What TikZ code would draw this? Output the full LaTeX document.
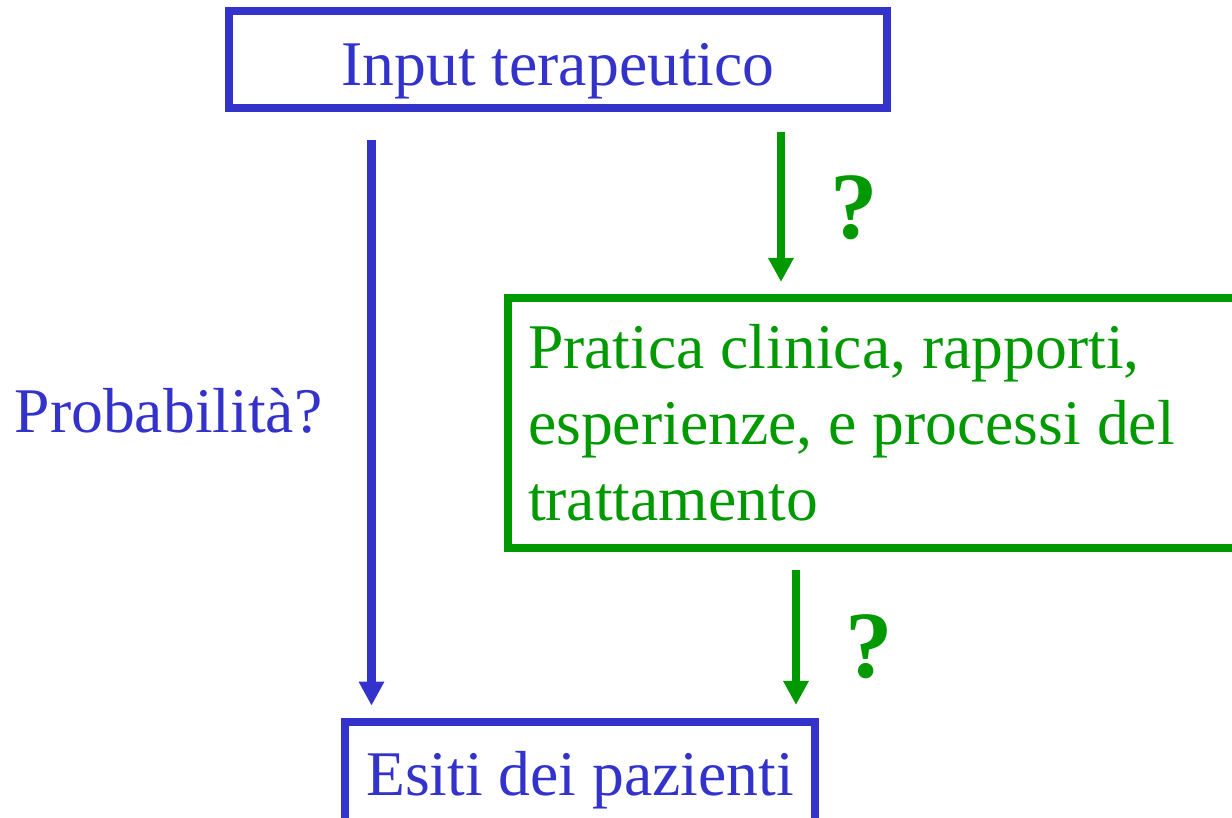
\documentclass[tikz,border=0pt]{standalone}
\usepackage{fontspec}
\setmainfont{Liberation Serif}
\usetikzlibrary{arrows.meta}
\definecolor{ptblue}{RGB}{51,51,204}
\definecolor{ptgreen}{RGB}{0,153,0}
\tikzset{
  box/.style={line width=0.08cm, inner sep=0pt, outer sep=0pt, font=\fontsize{18.1pt}{21.6pt}\selectfont},
  bluebox/.style={box, draw=ptblue, text=ptblue},
  greenbox/.style={box, draw=ptgreen, text=ptgreen},
  flow/.style={line width=0.08cm, -{Triangle[width=0.24cm, length=0.24cm]}},
  query/.style={text=ptgreen, inner sep=0pt, font=\bfseries\fontsize{27pt}{30pt}\selectfont}
}

\begin{document}
\begin{tikzpicture}[x=0.01cm, y=-0.01cm]
  \useasboundingbox (0,0) rectangle (1232,817);

  % Boxes
  \node[bluebox, anchor=base, minimum width=6.58cm, text height=0.735cm, text depth=0.23cm] (input) at (558,85) {Input terapeutico};
  \node[greenbox, anchor=north west, minimum height=2.5cm, text width=7cm, inner xsep=0.2cm, align=flush left] (pratica) at (508,298) {Pratica clinica, rapporti,\\esperienze, e processi del\\trattamento};
  \node[bluebox, anchor=base, minimum width=4.694cm, text height=0.73cm, text depth=0.4cm] (esiti) at (580,795) {Esiti dei pazienti};

  % Labels
  \node[anchor=base west, inner sep=0pt, text=ptblue, font=\fontsize{18.1pt}{21.6pt}\selectfont] (prob) at (14,432) {Probabilità?};
  \node[query, anchor=base] (q1) at (854,238) {?};
  \node[query, anchor=base] (q2) at (869,677) {?};

  % Arrows
  \coordinate (b1) at (371.5,140);
  \coordinate (g1) at (781,132);
  \coordinate (g2) at (796,570);
  \draw[flow, ptblue, shorten >=0.163cm] (b1) -- (b1 |- esiti.north);
  \draw[flow, ptgreen, shorten >=0.16cm] (g1) -- (g1 |- pratica.north);
  \draw[flow, ptgreen, shorten >=0.17cm] (g2) -- (g2 |- esiti.north);
\end{tikzpicture}
\end{document}
